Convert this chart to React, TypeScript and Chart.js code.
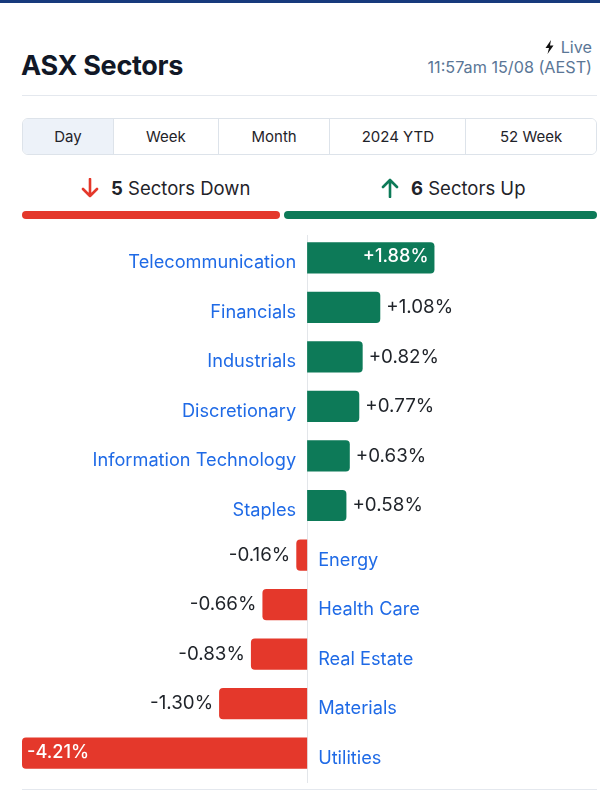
import React, { useEffect, useRef } from "react";
import { Chart, registerables } from "chart.js";

Chart.register(...registerables);

const categories = [
  "Telecommunication",
  "Financials",
  "Industrials",
  "Discretionary",
  "Information Technology",
  "Staples",
  "Energy",
  "Health Care",
  "Real Estate",
  "Materials",
  "Utilities",
];
const changes = [1.88, 1.08, 0.82, 0.77, 0.63, 0.58, -0.16, -0.66, -0.83, -1.3, -4.21];
const tabs = ["Day", "Week", "Month", "2024 YTD", "52 Week"];
const tabWidths = [91, 105, 112, 136, 131];
const sectorsDown = 5;
const sectorsUp = 6;

const GREEN = "#0d7a58";
const RED = "#e4382b";
const BLUE = "#1f6ae6";
const FONT = "Inter, 'Noto Sans', sans-serif";

const fmt = (v: number) => (v > 0 ? "+" : "") + v.toFixed(2) + "%";

const labelPlugin = {
  id: "sectorLabels",
  beforeDatasetsDraw(chart: any) {
    const ctx = chart.ctx;
    const x0 = chart.scales.x.getPixelForValue(0);
    ctx.save();
    ctx.strokeStyle = "#e3e6ea";
    ctx.lineWidth = 1;
    ctx.beginPath();
    ctx.moveTo(Math.round(x0) + 0.5, 5);
    ctx.lineTo(Math.round(x0) + 0.5, 553);
    ctx.stroke();
    ctx.restore();
  },
  afterDatasetsDraw(chart: any) {
    const ctx = chart.ctx;
    const x0 = chart.scales.x.getPixelForValue(0);
    const meta = chart.getDatasetMeta(0);
    ctx.save();
    ctx.textBaseline = "middle";
    meta.data.forEach((bar: any, i: number) => {
      const v = changes[i];
      const y = bar.y;
      // category label
      ctx.font = `400 18.2px ${FONT}`;
      ctx.fillStyle = BLUE;
      if (v >= 0) {
        ctx.textAlign = "right";
        ctx.fillText(categories[i], x0 - 11, y + 5);
      } else {
        ctx.textAlign = "left";
        ctx.fillText(categories[i], x0 + 11, y + 5);
      }
      // value label
      const inside = Math.abs(v) > 1.5;
      const txt = fmt(v);
      if (inside) {
        ctx.font = `500 18.2px ${FONT}`;
        ctx.fillStyle = "#ffffff";
        if (v >= 0) {
          ctx.textAlign = "right";
          ctx.fillText(txt, bar.x - 6, y - 1);
        } else {
          ctx.textAlign = "left";
          ctx.fillText(txt, bar.x + 5, y - 1);
        }
      } else {
        ctx.font = `400 18.8px ${FONT}`;
        ctx.fillStyle = "#1f2329";
        if (v >= 0) {
          ctx.textAlign = "left";
          ctx.fillText(txt, bar.x + 6, y);
        } else {
          ctx.textAlign = "right";
          ctx.fillText(txt, bar.x - 6, y);
        }
      }
    });
    ctx.restore();
  },
};

function SectorChart() {
  const ref = useRef<HTMLCanvasElement | null>(null);
  useEffect(() => {
    if (!ref.current) return;
    const chart = new Chart(ref.current, {
      type: "bar",
      data: {
        labels: categories,
        datasets: [
          {
            data: changes,
            backgroundColor: changes.map((v) => (v >= 0 ? GREEN : RED)),
            borderRadius: 4,
            borderSkipped: "start",
            barPercentage: 0.63,
            categoryPercentage: 1,
          },
        ],
      },
      options: {
        indexAxis: "y",
        animation: false,
        responsive: false,
        maintainAspectRatio: false,
        layout: { padding: { left: 22, right: 3, top: 3, bottom: 12 } },
        plugins: { legend: { display: false }, tooltip: { enabled: false } },
        scales: {
          x: { display: false, min: -4.21, max: 4.28 },
          y: { display: false },
        },
      },
      plugins: [labelPlugin],
    });
    return () => chart.destroy();
  }, []);
  return (
    <canvas
      ref={ref}
      width={600}
      height={560}
      style={{ position: "absolute", left: 0, top: 230, width: 600, height: 560 }}
    />
  );
}

const Bolt = () => (
  <svg width="9" height="14" viewBox="0 0 9 14" style={{ marginRight: 7, verticalAlign: "-1px" }}>
    <path d="M6 0 L0.5 8 L4 8 L2.5 14 L8.5 5.5 L5 5.5 Z" fill="#111" />
  </svg>
);

const Arrow = ({ up, color }: { up: boolean; color: string }) => (
  <svg
    width="18"
    height="20"
    viewBox="0 0 18 20"
    style={{ marginRight: 12, verticalAlign: "-3px", transform: up ? "rotate(180deg)" : undefined }}
  >
    <path d="M9 1 L9 18 M2 11 L9 18 L16 11" stroke={color} strokeWidth="2.6" fill="none" strokeLinecap="round" strokeLinejoin="round" />
  </svg>
);

export default function App() {
  const split = Math.round((575 * sectorsDown) / (sectorsDown + sectorsUp));
  return (
    <div
      style={{
        position: "absolute",
        left: 0,
        top: 0,
        width: 600,
        height: 799,
        background: "#fff",
        fontFamily: FONT,
        overflow: "hidden",
      }}
    >
      <div style={{ position: "absolute", left: 0, top: 0, width: 600, height: 3, background: "#173a7c" }} />
      <div
        style={{
          position: "absolute",
          left: 21,
          top: 48,
          fontSize: 27,
          fontWeight: 700,
          color: "#111827",
          letterSpacing: -0.3,
          lineHeight: "35px",
        }}
      >
        ASX Sectors
      </div>
      <div
        style={{
          position: "absolute",
          right: 8,
          top: 37,
          textAlign: "right",
          fontSize: 16.2,
          lineHeight: "20px",
          color: "#5a7696",
        }}
      >
        <div>
          <Bolt />
          Live
        </div>
        <div>11:57am 15/08 (AEST)</div>
      </div>
      <div style={{ position: "absolute", left: 22, top: 95, width: 575, height: 1, background: "#e4e8ee" }} />
      <div
        style={{
          position: "absolute",
          left: 22,
          top: 118,
          width: 573,
          height: 35,
          border: "1px solid #dde3ea",
          borderRadius: 6,
          overflow: "hidden",
          display: "flex",
        }}
      >
        {tabs.map((t, i) => (
          <div
            key={t}
            style={{
              width: tabWidths[i] - (i === 0 ? 1 : 0),
              height: 35,
              lineHeight: "35px",
              textAlign: "center",
              fontSize: 15,
              color: "#1f2329",
              background: i === 0 ? "#edf2f9" : "#fff",
              borderLeft: i === 0 ? "none" : "1px solid #dde3ea",
              boxSizing: "border-box",
            }}
          >
            {t}
          </div>
        ))}
      </div>
      <div
        style={{
          position: "absolute",
          left: 22,
          top: 175,
          width: 575,
          display: "flex",
          fontSize: 18.5,
          color: "#1f2329",
          lineHeight: "26px",
        }}
      >
        <div style={{ width: "50%", textAlign: "center" }}>
          <Arrow up={false} color={RED} />
          <b style={{ fontWeight: 700 }}>{sectorsDown}</b> Sectors Down
        </div>
        <div style={{ width: "50%", textAlign: "center" }}>
          <Arrow up={true} color={GREEN} />
          <b style={{ fontWeight: 700 }}>{sectorsUp}</b> Sectors Up
        </div>
      </div>
      <div
        style={{
          position: "absolute",
          left: 22,
          top: 211,
          width: split - 3,
          height: 8,
          borderRadius: 4,
          background: RED,
        }}
      />
      <div
        style={{
          position: "absolute",
          left: 22 + split + 1,
          top: 211,
          width: 575 - split - 1,
          height: 8,
          borderRadius: 4,
          background: GREEN,
        }}
      />
      <SectorChart />
      <div style={{ position: "absolute", left: 22, top: 789, width: 575, height: 1, background: "#e4e8ee" }} />
    </div>
  );
}
